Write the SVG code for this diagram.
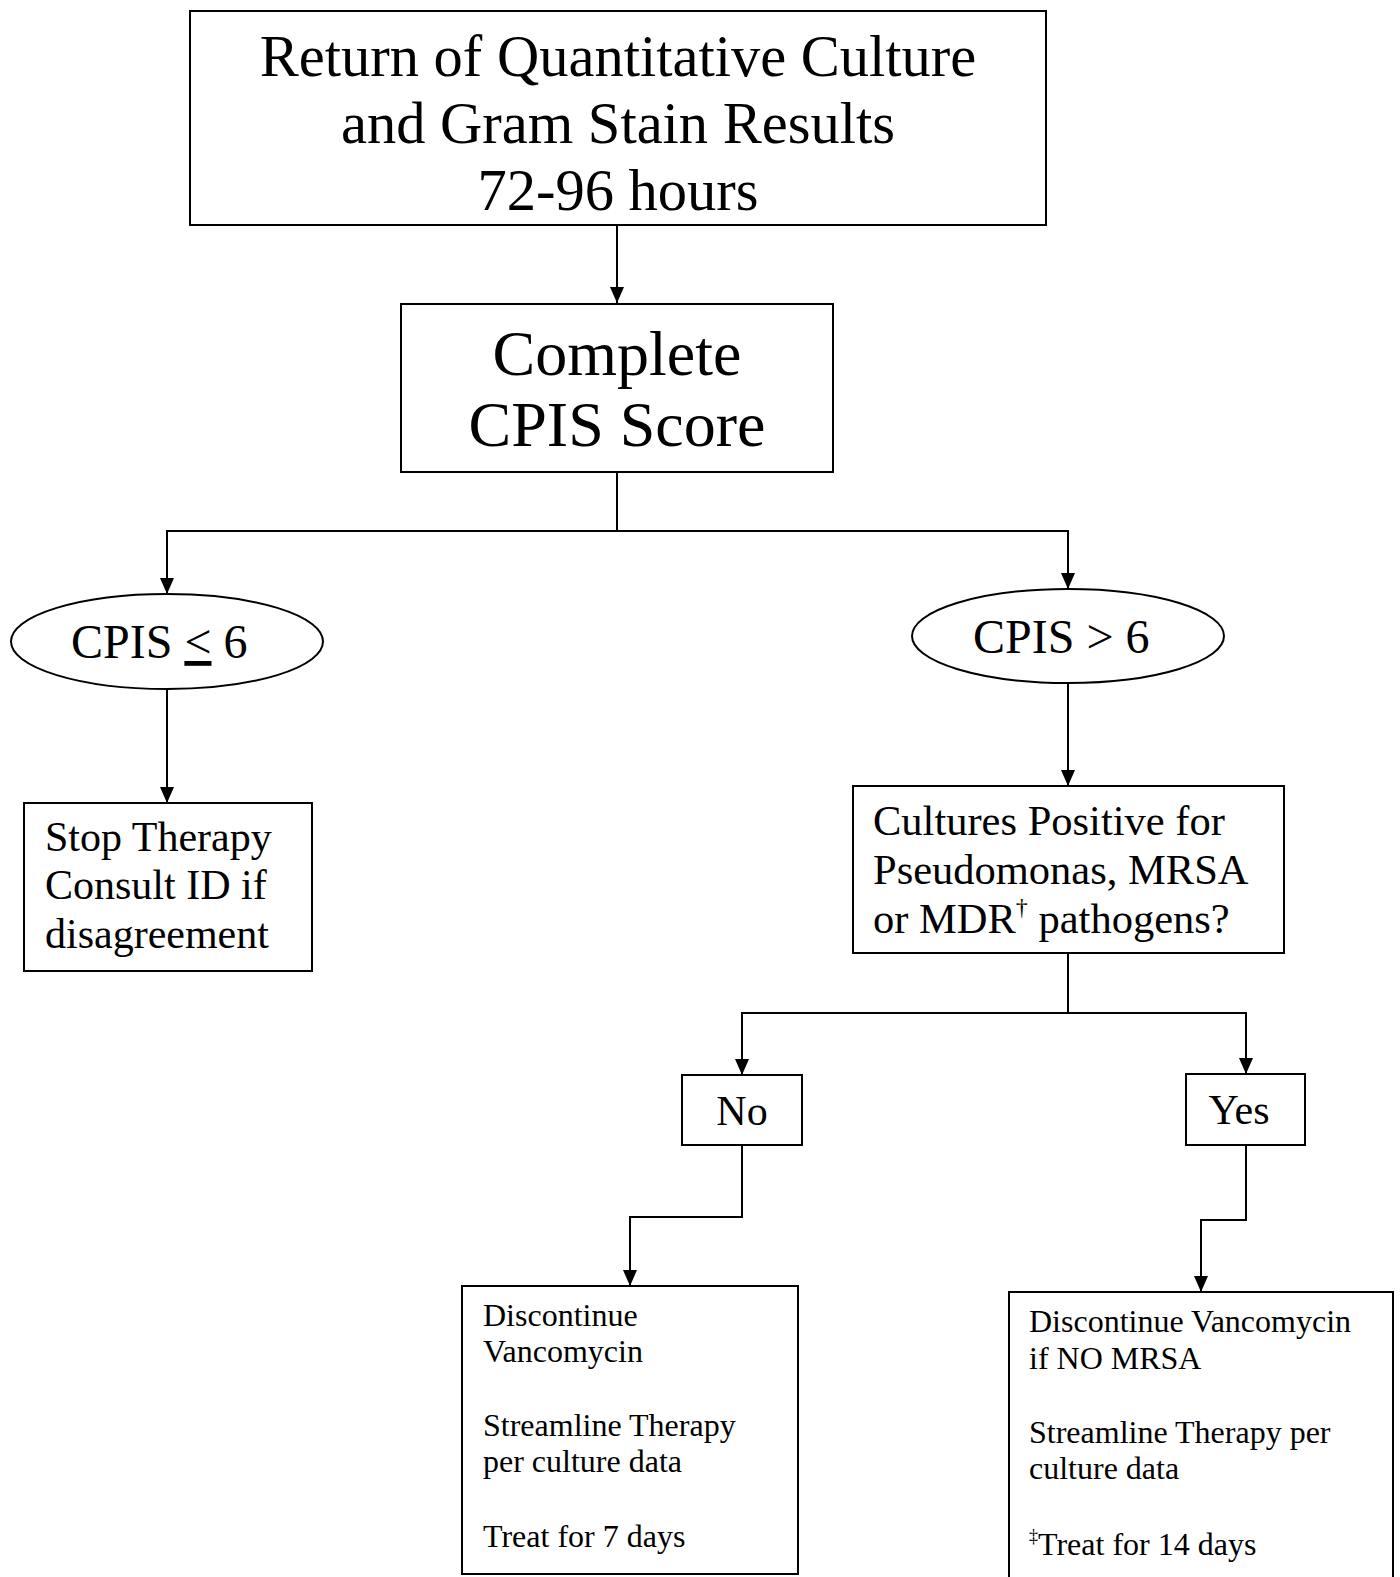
<svg xmlns="http://www.w3.org/2000/svg" width="1400" height="1577" viewBox="0 0 1400 1577">
<style>
.box{fill:#fff;stroke:#000;stroke-width:2}
.t{font-family:"Liberation Serif","Times New Roman",serif;fill:#000}
.c{stroke:#000;stroke-width:2;fill:none}
</style>
<defs>
<marker id="ah" markerUnits="userSpaceOnUse" markerWidth="16" markerHeight="14" refX="16" refY="7" orient="auto" viewBox="0 0 16 14">
<path d="M0,0 L16,7 L0,14 z" fill="#000"/>
</marker>
</defs>
<rect width="1400" height="1577" fill="#fff"/>
<g id="connectors">
<line class="c" x1="617" y1="225" x2="617" y2="303" marker-end="url(#ah)"/>
<polyline class="c" points="617,472 617,531 167,531 167,594" marker-end="url(#ah)"/>
<polyline class="c" points="617,531 1068,531 1068,589" marker-end="url(#ah)"/>
<line class="c" x1="167" y1="689" x2="167" y2="803" marker-end="url(#ah)"/>
<line class="c" x1="1068" y1="683" x2="1068" y2="786" marker-end="url(#ah)"/>
<polyline class="c" points="1068,953 1068,1013 742,1013 742,1075" marker-end="url(#ah)"/>
<polyline class="c" points="1068,1013 1246,1013 1246,1074" marker-end="url(#ah)"/>
<polyline class="c" points="742,1145 742,1217 630,1217 630,1286" marker-end="url(#ah)"/>
<polyline class="c" points="1246,1145 1246,1220 1201,1220 1201,1292" marker-end="url(#ah)"/>
</g>
<g id="n-return">
<rect class="box" x="190" y="11" width="856" height="214"/>
<text class="t" font-size="58.5" text-anchor="middle" x="618" y="76">Return of Quantitative Culture</text>
<text class="t" font-size="58.5" text-anchor="middle" x="618" y="143">and Gram Stain Results</text>
<text class="t" font-size="58.5" text-anchor="middle" x="618" y="210">72-96 hours</text>
</g>
<g id="n-complete">
<rect class="box" x="401" y="304" width="432" height="168"/>
<text class="t" font-size="64" text-anchor="middle" x="617" y="375">Complete</text>
<text class="t" font-size="64" text-anchor="middle" x="617" y="446">CPIS Score</text>
</g>
<g id="n-cpis-low">
<ellipse class="box" cx="167" cy="641.5" rx="156" ry="47.5"/>
<text class="t" font-size="48" x="71" y="658">CPIS <tspan text-decoration="underline">&lt;</tspan> 6</text>
</g>
<g id="n-cpis-high">
<ellipse class="box" cx="1068" cy="636" rx="156" ry="47"/>
<text class="t" font-size="48" x="973" y="653">CPIS &gt; 6</text>
</g>
<g id="n-stop">
<rect class="box" x="24" y="803" width="288" height="168"/>
<text class="t" font-size="42" x="45" y="851">Stop Therapy</text>
<text class="t" font-size="42" x="45" y="899">Consult ID if</text>
<text class="t" font-size="42" x="45" y="948">disagreement</text>
</g>
<g id="n-cultures">
<rect class="box" x="853" y="786" width="431" height="167"/>
<text class="t" font-size="42.5" x="873" y="835">Cultures Positive for</text>
<text class="t" font-size="42.5" x="873" y="884">Pseudomonas, MRSA</text>
<text class="t" font-size="42.5" x="873" y="933">or MDR<tspan font-size="24" dy="-18">†</tspan><tspan dy="18"> pathogens?</tspan></text>
</g>
<g id="n-no">
<rect class="box" x="682" y="1075" width="120" height="70"/>
<text class="t" font-size="42" text-anchor="middle" x="742" y="1125">No</text>
</g>
<g id="n-yes">
<rect class="box" x="1186" y="1074" width="119" height="71"/>
<text class="t" font-size="42" text-anchor="middle" x="1239" y="1124">Yes</text>
</g>
<g id="n-discontinue">
<rect class="box" x="462" y="1286" width="336" height="288"/>
<text class="t" font-size="32" x="483" y="1326">Discontinue</text>
<text class="t" font-size="32" x="483" y="1362">Vancomycin</text>
<text class="t" font-size="32" x="483" y="1436">Streamline Therapy</text>
<text class="t" font-size="32" x="483" y="1472">per culture data</text>
<text class="t" font-size="32" x="483" y="1547">Treat for 7 days</text>
</g>
<g id="n-discontinue-mrsa">
<rect class="box" x="1009" y="1292" width="384" height="300"/>
<text class="t" font-size="32" x="1029" y="1332">Discontinue Vancomycin</text>
<text class="t" font-size="32" x="1029" y="1369">if NO MRSA</text>
<text class="t" font-size="32" x="1029" y="1443">Streamline Therapy per</text>
<text class="t" font-size="32" x="1029" y="1479">culture data</text>
<text class="t" font-size="32" x="1029" y="1555"><tspan font-size="18" dy="-13">‡</tspan><tspan dy="13">Treat for 14 days</tspan></text>
</g>
</svg>
